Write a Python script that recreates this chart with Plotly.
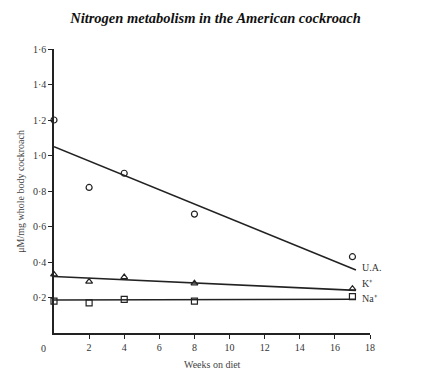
import plotly.graph_objects as go

weeks = [0, 2, 4, 8, 17]
ua = [1.20, 0.82, 0.90, 0.67, 0.43]
k = [0.33, 0.29, 0.315, 0.28, 0.25]
na = [0.18, 0.17, 0.19, 0.18, 0.205]

fit_x = [0, 17.2]
ua_fit = [1.05, 0.355]
k_fit = [0.318, 0.24]
na_fit = [0.186, 0.19]

labels = ["U.A.", "K⁺", "Na⁺"]
label_y = [0.37, 0.28, 0.195]

xticks = [2, 4, 6, 8, 10, 12, 14, 16, 18]
yticks = [0.2, 0.4, 0.6, 0.8, 1.0, 1.2, 1.4, 1.6]

FONT = "Liberation Serif"
INK = "#222"

fig = go.Figure()
for yv in (ua_fit, k_fit, na_fit):
    fig.add_trace(go.Scatter(x=fit_x, y=yv, mode="lines",
                             line=dict(color=INK, width=1.6), showlegend=False, hoverinfo="skip"))
for yv, sym in ((ua, "circle-open"), (k, "triangle-up-open"), (na, "square-open")):
    fig.add_trace(go.Scatter(x=weeks, y=yv, mode="markers", cliponaxis=False,
                             marker=dict(symbol=sym, size=6, color=INK, line=dict(width=1.2, color=INK)),
                             showlegend=False))

for t, yv in zip(labels, label_y):
    fig.add_annotation(x=17.45, y=yv, text=t, showarrow=False, xanchor="left", yanchor="middle",
                       font=dict(family=FONT, size=10, color="#333"))

fig.add_annotation(x=0, y=0, text="0", showarrow=False, xanchor="right", yanchor="top",
                   xshift=-6, yshift=-8, font=dict(family=FONT, size=10, color="#333"))

fig.add_annotation(x=-0.108, y=0.5, xref="paper", yref="paper", text="μM/mg whole body cockroach",
                   textangle=-90, showarrow=False, xanchor="center", yanchor="middle",
                   font=dict(family=FONT, size=10, color="#444"))
fig.add_annotation(x=0.5, y=-0.085, xref="paper", yref="paper", text="Weeks on diet",
                   showarrow=False, xanchor="center", yanchor="top",
                   font=dict(family=FONT, size=10, color="#444"))

# the page body has an 8px margin; compensate so the plot area lands where the reference's does
fig.update_layout(
    width=415, height=368,
    margin=dict(l=46, r=53, t=41, b=43),
    paper_bgcolor="white", plot_bgcolor="white",
    title=dict(text="<b><i>Nitrogen metabolism in the American cockroach</i></b>",
               x=0.5, xanchor="center", y=0.972, yanchor="middle",
               font=dict(family=FONT, size=14.5, color="#111")),
    xaxis=dict(range=[0, 18], tickvals=xticks, ticktext=[str(v) for v in xticks], automargin=False,
               showgrid=False, zeroline=False, showline=True, linecolor=INK, linewidth=1.5,
               ticks="outside", ticklen=4, tickcolor=INK, tickwidth=1.2,
               tickfont=dict(family=FONT, size=10, color="#333")),
    yaxis=dict(range=[0, 1.6], tickvals=yticks, ticktext=[f"{v:.1f}".replace(".", "·") for v in yticks],
               automargin=False,
               showgrid=False, zeroline=False, showline=True, linecolor=INK, linewidth=1.5,
               ticks="outside", ticklen=4, tickcolor=INK, tickwidth=1.2,
               tickfont=dict(family=FONT, size=10, color="#333")),
)

fig.write_html("out.html")
